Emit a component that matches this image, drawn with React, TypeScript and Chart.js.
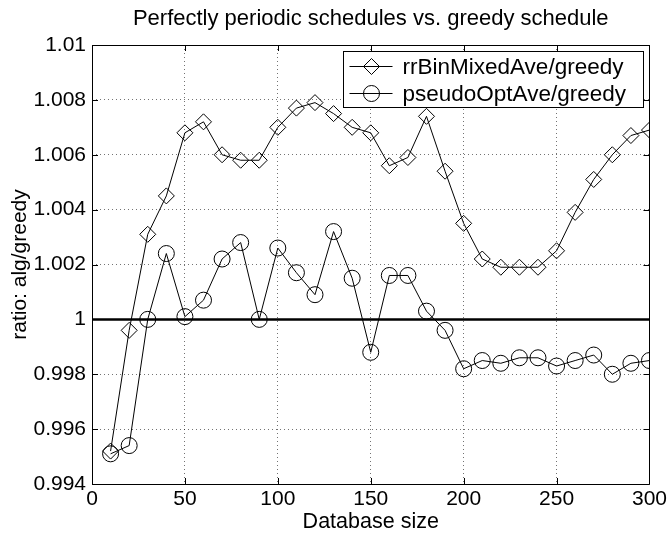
import React, { useEffect, useRef } from "react";
import { Chart, registerables } from "chart.js";

Chart.register(...registerables);

const databaseSizes = [10, 20, 30, 40, 50, 60, 70, 80, 90, 100, 110, 120, 130, 140, 150, 160, 170, 180, 190, 200, 210, 220, 230, 240, 250, 260, 270, 280, 290, 300];
const rrBinMixedAve = [0.9952, 0.9996, 1.0031, 1.0045, 1.0068, 1.0072, 1.006, 1.0058, 1.0058, 1.007, 1.0077, 1.0079, 1.0075, 1.007, 1.0068, 1.0056, 1.0059, 1.0074, 1.0054, 1.0035, 1.0022, 1.0019, 1.0019, 1.0019, 1.0025, 1.0039, 1.0051, 1.006, 1.0067, 1.0069];
const pseudoOptAve = [0.9951, 0.9954, 1.0, 1.0024, 1.0001, 1.0007, 1.0022, 1.0028, 1.0, 1.0026, 1.0017, 1.0009, 1.0032, 1.0015, 0.9988, 1.0016, 1.0016, 1.0003, 0.9996, 0.9982, 0.9985, 0.9984, 0.9986, 0.9986, 0.9983, 0.9985, 0.9987, 0.998, 0.9984, 0.9985];
const referenceX = [0, 300];
const referenceY = [1, 1];
const xTicks = [0, 50, 100, 150, 200, 250, 300];
const yTicks = [0.994, 0.996, 0.998, 1, 1.002, 1.004, 1.006, 1.008, 1.01];
const seriesLabels = ["rrBinMixedAve/greedy", "pseudoOptAve/greedy"];
const seriesMarkers = ["rectRot", "circle"];
const titleText = "Perfectly periodic schedules vs. greedy schedule";
const xTitle = "Database size";
const yTitle = "ratio: alg/greedy";

const FONT = "'Liberation Sans', Arial, Helvetica, sans-serif";

const framePlugin = {
  id: "matlabFrame",
  afterDraw(chart: any) {
    const { ctx, chartArea } = chart;
    const { left, right, top, bottom } = chartArea;
    const xs = chart.scales.x;
    const ys = chart.scales.y;
    ctx.save();
    ctx.strokeStyle = "#000";
    ctx.lineWidth = 1;
    ctx.setLineDash([]);
    ctx.beginPath();
    ctx.rect(Math.round(left) + 0.5, Math.round(top) + 0.5, Math.round(right - left), Math.round(bottom - top));
    ctx.stroke();
    const tl = 6;
    ctx.beginPath();
    xTicks.forEach((v) => {
      const px = Math.round(xs.getPixelForValue(v)) + 0.5;
      ctx.moveTo(px, bottom);
      ctx.lineTo(px, bottom - tl);
      ctx.moveTo(px, top);
      ctx.lineTo(px, top + tl);
    });
    yTicks.forEach((v) => {
      const py = Math.round(ys.getPixelForValue(v)) + 0.5;
      ctx.moveTo(left, py);
      ctx.lineTo(left + tl, py);
      ctx.moveTo(right, py);
      ctx.lineTo(right - tl, py);
    });
    ctx.stroke();

    // title
    ctx.fillStyle = "#000";
    ctx.font = `22px ${FONT}`;
    ctx.textAlign = "center";
    ctx.textBaseline = "middle";
    ctx.fillText(titleText, (left + right) / 2, 19);

    // legend
    const bw = 300;
    const bh = 56;
    const bx = Math.round(right - 6 - bw) + 0.5;
    const by = Math.round(top + 6) + 0.5;
    ctx.fillStyle = "#fff";
    ctx.fillRect(bx, by, bw, bh);
    ctx.strokeStyle = "#000";
    ctx.lineWidth = 1;
    ctx.strokeRect(bx, by, bw, bh);
    ctx.font = `22.5px ${FONT}`;
    ctx.textAlign = "left";
    ctx.textBaseline = "middle";
    seriesLabels.forEach((label, i) => {
      const cy = by + 15 + i * 27;
      ctx.beginPath();
      ctx.moveTo(bx + 6, cy);
      ctx.lineTo(bx + 49, cy);
      ctx.stroke();
      const mx = bx + 28;
      const r = 8;
      ctx.beginPath();
      if (seriesMarkers[i] === "rectRot") {
        ctx.moveTo(mx - r, cy);
        ctx.lineTo(mx, cy - r);
        ctx.lineTo(mx + r, cy);
        ctx.lineTo(mx, cy + r);
        ctx.closePath();
      } else {
        ctx.arc(mx, cy, r, 0, Math.PI * 2);
      }
      ctx.stroke();
      ctx.fillStyle = "#000";
      ctx.fillText(label, bx + 59, cy + 1);
    });
    ctx.restore();
  },
};

export default function App() {
  const canvasRef = useRef<HTMLCanvasElement | null>(null);

  useEffect(() => {
    document.body.style.margin = "0";
    const canvas = canvasRef.current;
    if (!canvas) return;
    const toPoints = (xsArr: number[], ysArr: number[]) => xsArr.map((x, i) => ({ x, y: ysArr[i] }));
    const chart = new Chart(canvas, {
      type: "line",
      data: {
        datasets: [
          {
            label: seriesLabels[0],
            data: toPoints(databaseSizes, rrBinMixedAve),
            borderColor: "#000",
            borderWidth: 1,
            pointStyle: "rectRot",
            pointRadius: 8,
            pointBorderColor: "#000",
            pointBorderWidth: 1,
            pointBackgroundColor: "transparent",
            tension: 0,
          },
          {
            label: seriesLabels[1],
            data: toPoints(databaseSizes, pseudoOptAve),
            borderColor: "#000",
            borderWidth: 1,
            pointStyle: "circle",
            pointRadius: 8,
            pointBorderColor: "#000",
            pointBorderWidth: 1,
            pointBackgroundColor: "transparent",
            tension: 0,
          },
          {
            label: "reference",
            data: toPoints(referenceX, referenceY),
            borderColor: "#000",
            borderWidth: 2.5,
            pointRadius: 0,
            tension: 0,
          },
        ],
      },
      options: {
        responsive: false,
        animation: false,
        events: [],
        layout: { padding: { top: 45, right: 20, left: 0, bottom: 0 } },
        plugins: {
          legend: { display: false },
          tooltip: { enabled: false },
          title: { display: false },
        },
        scales: {
          x: {
            type: "linear",
            min: 0,
            max: 300,
            afterBuildTicks: (scale: any) => {
              scale.ticks = xTicks.map((v) => ({ value: v }));
            },
            afterFit: (scale: any) => {
              scale.height = 52;
            },
            ticks: {
              color: "#000",
              font: { family: FONT, size: 21 },
              padding: 3,
              maxRotation: 0,
              autoSkip: false,
            },
            grid: {
              color: "rgba(0,0,0,0.55)",
              lineWidth: 1,
              drawTicks: false,
              tickLength: 0,
            },
            border: { display: false, dash: [1, 3] },
            title: {
              display: true,
              text: xTitle,
              color: "#000",
              font: { family: FONT, size: 21.5 },
              padding: { top: 0, bottom: 1 },
            },
          },
          y: {
            type: "linear",
            min: 0.994,
            max: 1.01,
            afterBuildTicks: (scale: any) => {
              scale.ticks = yTicks.map((v) => ({ value: v }));
            },
            afterFit: (scale: any) => {
              scale.width = 92;
            },
            ticks: {
              color: "#000",
              font: { family: FONT, size: 21 },
              padding: 6,
              autoSkip: false,
              callback: (v: any) => String(Number(Number(v).toFixed(3))),
            },
            grid: {
              color: "rgba(0,0,0,0.55)",
              lineWidth: 1,
              drawTicks: false,
              tickLength: 0,
            },
            border: { display: false, dash: [1, 3] },
            title: {
              display: true,
              text: yTitle,
              color: "#000",
              font: { family: FONT, size: 21 },
              padding: { top: 8, bottom: 0 },
            },
          },
        },
      },
      plugins: [framePlugin],
    });
    return () => chart.destroy();
  }, []);

  return (
    <div style={{ width: 670, height: 536 }}>
      <canvas ref={canvasRef} width={670} height={536} style={{ display: "block" }} />
    </div>
  );
}
